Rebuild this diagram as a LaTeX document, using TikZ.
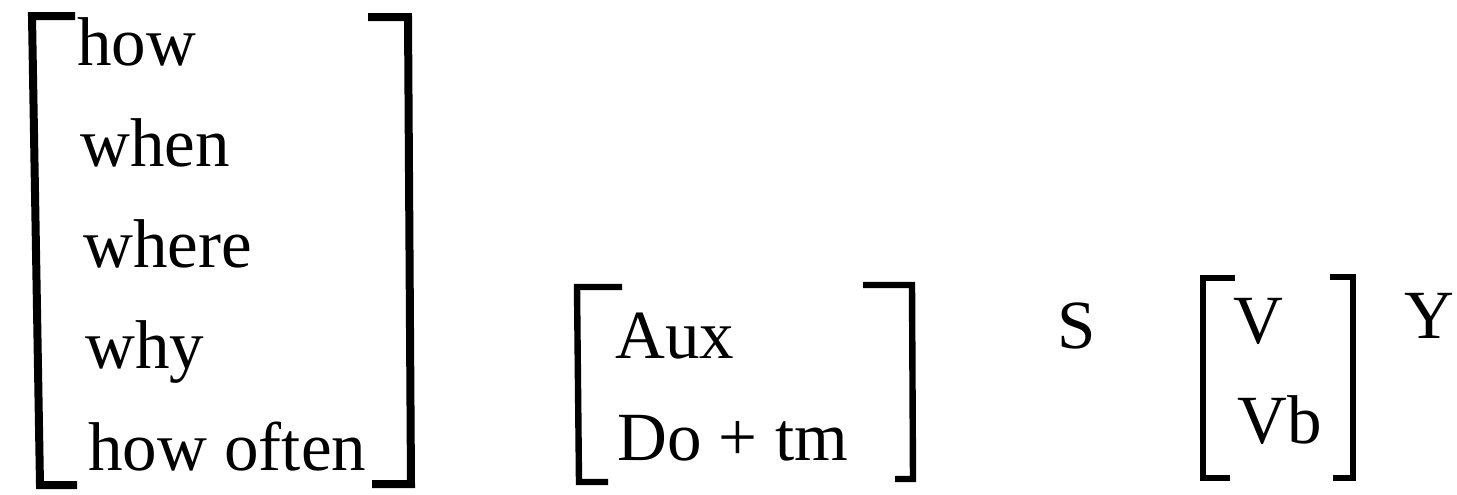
\documentclass[tikz,border=0pt]{standalone}
\usepackage{fontspec}
\setmainfont{Liberation Serif}
\usepackage{tikz}

\tikzset{
  word/.style={anchor=base west, inner sep=0pt, font=\fontsize{34.5}{40}\selectfont},
  brack/.style={line width=4pt, line join=miter},
  smallbrack/.style={line width=3.2pt, line join=miter},
}

\begin{document}
\begin{tikzpicture}[x=0.5pt, y=-0.5pt]
  \useasboundingbox (0,0) rectangle (1457,494);

  % wh-words
  \node[word] (how)      at (77,65)  {how};
  \node[word] (when)     at (80,166) {when};
  \node[word] (where)    at (83,267) {where};
  \node[word] (why)      at (85,368) {why};
  \node[word] (howoften) at (88,470) {how often};

  \draw[brack] (75,16) -- (32,16) -- (40,485) -- (77,485);
  \draw[brack] (368,17) -- (408,17) -- (411,484) -- (372,484);

  % auxiliary
  \node[word] (aux)  at (615,358) {Aux};
  \node[word] (dotm) at (617,460) {Do + tm};

  \draw[smallbrack] (622,287) -- (577,287) -- (579,482) -- (608,482);
  \draw[smallbrack] (863,285) -- (912,285) -- (913,479) -- (895,479);

  % subject, verb, rest
  \node[word] (subj) at (1057,348) {S};
  \node[word] (verb) at (1233,343) {V};
  \node[word] (vb)   at (1237,443) {Vb};
  \node[word] (rest) at (1404,338) {Y};

  \draw[smallbrack] (1235,278) -- (1203,278) -- (1203,478) -- (1230,478);
  \draw[smallbrack] (1330,277) -- (1353,277) -- (1353,478) -- (1333,478);
\end{tikzpicture}
\end{document}
